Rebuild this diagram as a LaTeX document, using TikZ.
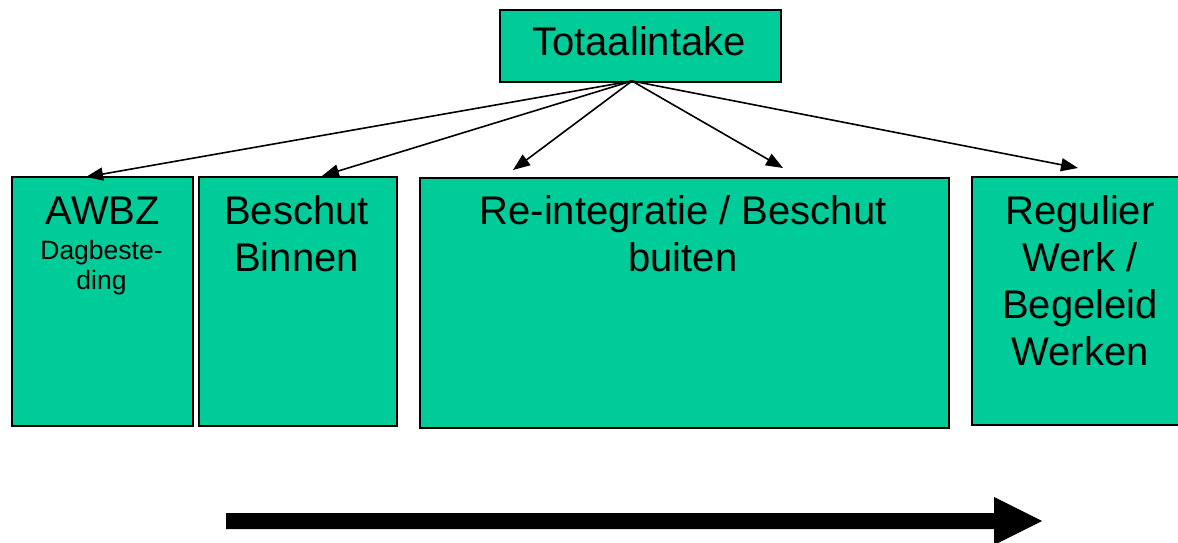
\documentclass[tikz,border=0pt]{standalone}
\usepackage{fontspec}
\setmainfont{Liberation Sans}
\usetikzlibrary{arrows.meta}
\definecolor{boxgreen}{RGB}{0,204,153}
\tikzset{
  box/.style={draw=black, fill=boxgreen, line width=1.8pt, inner sep=0pt, anchor=north west},
  big/.style={font=\fontsize{40}{47}\selectfont, inner sep=0pt, anchor=base, align=center},
  small/.style={font=\fontsize{26.5}{30}\selectfont, inner sep=0pt, anchor=base, align=center},
  link/.style={line width=1.6pt, -{Triangle[length=17pt,width=13pt]}},
  bigarrow/.style={fill=black, draw=none}
}
\begin{document}
\begin{tikzpicture}[x=1pt,y=-1pt]
\useasboundingbox (0,0) rectangle (1178,543);

% boxes
\node[box, minimum width=281pt, minimum height=72pt] (total) at (499,9) {};
\node[box, minimum width=181pt, minimum height=249pt] (awbz) at (11,176) {};
\node[box, minimum width=198pt, minimum height=249pt] (binnen) at (198,176) {};
\node[box, minimum width=529pt, minimum height=250pt] (reint) at (419,177) {};
\node[box, minimum width=218pt, minimum height=248pt] (regulier) at (971,176) {};

% labels (anchor=base sits on the last line's baseline)
\node[big] (totaltxt) at (639,56) {Totaalintake};
\node[big] (awbztxt) at (103,224) {AWBZ};
\node[small] (dagtxt) at (101.5,289) {Dagbeste-\\ding};
\node[big] (binnentxt) at (296.5,271) {Beschut\\Binnen};
\node[big] (reinttxt) at (683,271) {Re-integratie / Beschut\\buiten};
\node[big] (reguliertxt) at (1080,365) {Regulier\\Werk /\\Begeleid\\Werken};

% connectors from the intake box
\coordinate (src) at (632,81);
\coordinate (tawbz) at (86,177);
\coordinate (tbinnen) at (322,176);
\coordinate (treintl) at (513,170);
\coordinate (treintr) at (783,168);
\coordinate (tregulier) at (1078,168);
\draw[link] (src) -- (tawbz);
\draw[link] (src) -- (tbinnen);
\draw[link] (src) -- (treintl);
\draw[link] (src) -- (treintr);
\draw[link] (src) -- (tregulier);

% large progression arrow
\fill[bigarrow] (226,513) -- (994,513) -- (994,497) -- (1042,521)
  -- (994,545) -- (994,529) -- (226,529) -- cycle;
\end{tikzpicture}
\end{document}
